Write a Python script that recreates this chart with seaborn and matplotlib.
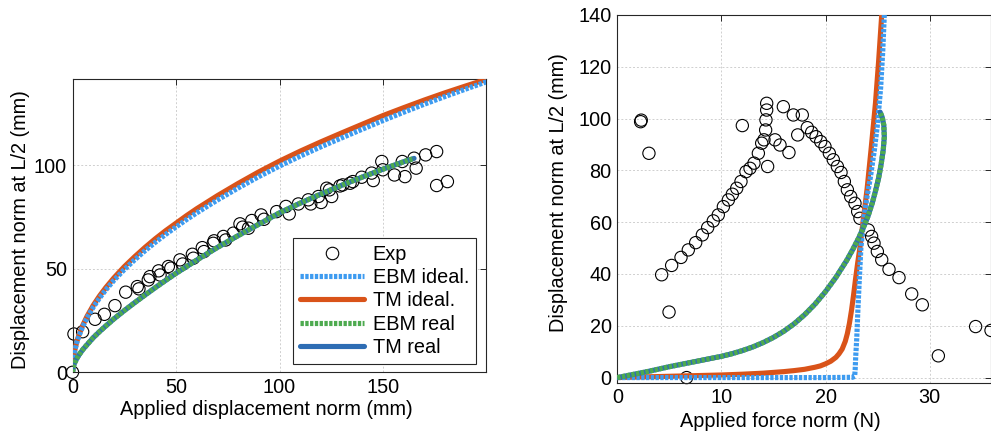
import numpy as np
import pandas as pd
import matplotlib
matplotlib.use("Agg")
import matplotlib.pyplot as plt
from matplotlib.lines import Line2D
import seaborn as sns

sns.set_theme(style="white")
plt.rcParams['font.family'] = ['Liberation Sans', 'DejaVu Sans']
plt.rcParams['text.color'] = 'black'

# ---------------- data: left panel (displacement control) ----------------
disp_ideal = [0, 0.25, 0.5, 1, 2, 3, 4, 5, 7, 10, 13, 16, 20, 25, 30, 35, 40, 45, 50, 55, 60,
              70, 80, 90, 100, 110, 120, 130, 140, 150, 160, 170, 180, 190, 200]
tm_ideal_disp = [0, 5, 7.2, 10.2, 14.5, 17.7, 20.4, 22.8, 27, 32.3, 36.8, 40.8, 45.6, 51, 55.8,
                 60.3, 64.5, 68.4, 72, 75.6, 79, 85.3, 91.2, 96.8, 102, 106.8, 111.3, 115.6,
                 119.8, 124, 127.8, 131.5, 135, 138.3, 141.5]
ebm_ideal_disp = [0, 4.8, 7, 9.9, 14.1, 17.2, 19.8, 22.2, 26.3, 31.4, 35.8, 39.7, 44.4, 49.6, 54.3,
                  58.7, 62.8, 66.6, 70.2, 73.7, 77, 83.2, 89, 94.5, 99.6, 104.4, 108.9, 113.2,
                  117.4, 121.6, 125.6, 129.5, 133.2, 136.8, 140.3]

disp_real = [0, 0.5, 1, 2, 3, 5, 7, 10, 13, 16, 20, 25, 30, 35, 40, 45, 50, 55, 60, 70, 80, 90,
             100, 110, 120, 130, 140, 150, 160, 165]
ebm_real_disp = [0, 3, 4.5, 6.5, 8.2, 11, 13.3, 16.7, 19.6, 22.3, 25.8, 29.8, 33.6, 37.3, 40.9,
                 44.4, 47.8, 51, 54.2, 60.3, 66, 71.5, 77, 81.7, 86.1, 90.3, 94.3, 98.1, 101.7, 103.3]
tm_real_disp = [0, 3, 4.5, 6.5, 8.2, 11, 13.3, 16.7, 19.6, 22.3, 25.8, 29.8, 33.6, 37.3, 40.9,
                44.4, 47.8, 51, 54.2, 60.3, 66, 71.5, 77, 81.7, 86.1, 90.3, 94.3, 98.1, 101.7, 103.3]

exp_disp_x = [0, 0.7, 4.9, 10.9, 15.4, 20.5, 25.7, 31.3, 32.1, 36.6, 37.4, 41.6, 42.3, 46.3, 47.5,
              51.9, 53.2, 57.9, 58.4, 62.7, 63.5, 68, 68.4, 72.9, 74, 77.7, 80.9, 82.2, 85, 86.6,
              91.1, 92.5, 98.6, 103.1, 104.7, 109.1, 113.9, 115.1, 118.8, 120.1, 122.8, 124.1,
              125.2, 129.2, 130.5, 134.1, 135.4, 139.7, 144.5, 145.3, 149.4, 149.9, 155.5, 159.3,
              160.6, 165, 166, 170.6, 175.9, 175.9, 181.1]
exp_disp_y = [0, 18.5, 19.6, 25.6, 28, 32.2, 38.7, 41.4, 40.3, 44.6, 46.2, 49, 47, 51.1, 50.3,
              54.3, 52.3, 57, 55.1, 60.2, 58.3, 62.3, 63.5, 65.6, 63.9, 67.2, 71.7, 70.1, 69.6, 73.3,
              76, 73.9, 77.6, 80.1, 76.5, 81.3, 83.3, 81.3, 84.9, 82, 88.9, 88.1,
              84.9, 90, 90.5, 91.3, 92.1, 94.2, 96.2, 92.6, 101.8, 97.8, 95.3, 101.8,
              94.5, 103.4, 98.6, 105, 106.6, 90.2, 92.1]

# ---------------- data: right panel (force control) ----------------
force_tm_ideal = [0, 2, 5, 8, 10, 12, 14, 16, 17, 18, 19, 19.5, 20, 20.5, 21, 21.3, 21.6, 21.9,
                  22.1, 22.3, 22.5, 22.7, 22.9, 23.1, 23.3, 23.6, 24.0, 24.4, 24.8, 25.1, 25.4]
defl_tm_ideal = [0, 0.2, 0.5, 0.8, 1, 1.3, 1.7, 2.3, 2.7, 3.2, 4, 4.5, 5.3, 6.3, 7.8, 9.2, 11, 14,
                 17, 21, 26, 32, 38.5, 44.5, 50, 60, 73, 89, 106, 122, 140]

force_ebm_ideal = [0, 10, 20, 22.6, 22.8, 22.85, 22.9, 23.0, 23.1, 23.25, 23.4, 23.7, 24.0, 24.3,
                   24.7, 25.0, 25.3, 25.5, 25.65]
defl_ebm_ideal = [0, 0, 0, 0.1, 0.5, 3, 8, 15, 25, 38, 50, 62, 70, 77, 88, 98, 112, 126, 140]

force_real = [0, 1, 2, 3, 4, 5, 6, 7, 8, 9, 10, 11, 12, 13, 14, 15, 16, 17, 18, 19, 20, 21, 22,
              22.6, 23.2, 23.7, 24.1, 24.5, 24.8, 25.1, 25.35, 25.55, 25.65, 25.6, 25.45, 25.25]
defl_ebm_real = [0, 0.8, 1.6, 2.4, 3.3, 4.2, 5, 5.8, 6.6, 7.4, 8.2, 9.2, 10.4, 11.8, 13.5, 15.5,
                 17.9, 20.8, 24.3, 28.4, 33.2, 38.7, 45, 49.3, 54, 58.5, 62.5, 67.5, 72, 77, 82.5,
                 88, 93, 97.5, 100.5, 102.5]
defl_tm_real = [0, 0.8, 1.6, 2.4, 3.3, 4.2, 5, 5.8, 6.6, 7.4, 8.2, 9.2, 10.4, 11.8, 13.5, 15.5,
                17.9, 20.8, 24.3, 28.4, 33.2, 38.7, 45, 49.3, 54, 58.5, 62.5, 67.5, 72, 77, 82.5,
                88, 93, 97.5, 100.5, 102.5]

exp_force_x = [2.24, 2.3, 3.04, 4.26, 4.97, 5.22, 6.12, 6.66, 6.82, 7.53, 8.17, 8.68, 9.22, 9.7, 10.19,
               10.67, 11.05, 11.47, 11.88, 12.01, 12.36, 12.75, 13.13, 13.55, 13.87, 14.09, 14.25,
               14.28, 14.35, 14.35, 14.44, 15.15, 15.63, 15.95, 16.49, 16.91, 17.33, 17.77, 18.25,
               18.67, 19.09, 19.54, 19.95, 20.37, 20.75, 21.14, 21.49, 21.81, 22.1, 22.42, 22.83,
               23.09, 23.31, 24.11, 24.43, 24.66, 24.98, 25.4, 26.1, 27.06, 28.28, 29.3, 30.84,
               34.42, 35.9]
exp_force_y = [98.8, 99.4, 86.6, 39.7, 25.3, 43.3, 46.4, 0, 49.3, 52.1, 55.1, 57.9, 60.5, 62.8, 66,
               68.6, 70.8, 73.1, 75.7, 97.3, 79.5, 80.8, 82.8, 86.6, 90.5, 91.8, 95.6,
               99.5, 103.3, 105.9, 81.5, 91.8, 89.8, 104.6, 86.9, 101.4, 93.7, 101.4, 96.5,
               94.7, 93, 91.1, 89.2, 86.6, 84.1, 81.5, 79.2, 75.7, 72.5, 69.9, 67.3,
               64.1, 61.5, 57, 54.5, 51.9, 48.7, 45.5, 41.8, 38.6, 32.3, 28.1, 8.4,
               19.7, 18.2]

# ---------------- styles ----------------
C_TM_IDEAL = '#D95319'
C_EBM_IDEAL = '#3D9BF0'
C_EBM_REAL = '#4DAA4F'
C_TM_REAL = '#2E6DB4'
LW = 3.7
DOT = (0, (0.65, 0.28))
FS = 14.3

fig = plt.figure(figsize=(9.91, 4.38), dpi=100)
ax1 = fig.add_axes([72.5 / 991, (438 - 372.3) / 438, 413.2 / 991, 293 / 438])
ax2 = fig.add_axes([617.3 / 991, (438 - 382.5) / 438, (990.5 - 617.3) / 991, 367.5 / 438])


def draw(ax, exp_x, exp_y, ti_x, ti_y, ei_x, ei_y, r_x, er_y, tr_y):
    sns.scatterplot(x=exp_x, y=exp_y, ax=ax, marker='o', s=78, facecolors='none',
                    edgecolor='black', linewidth=0.8, zorder=2, clip_on=False, legend=False)
    sns.lineplot(x=ti_x, y=ti_y, ax=ax, sort=False, estimator=None, color=C_TM_IDEAL,
                 lw=LW, zorder=3, legend=False)
    sns.lineplot(x=ei_x, y=ei_y, ax=ax, sort=False, estimator=None, color=C_EBM_IDEAL,
                 lw=LW, linestyle=DOT, zorder=4, legend=False)
    sns.lineplot(x=r_x, y=tr_y, ax=ax, sort=False, estimator=None, color=C_TM_REAL,
                 lw=LW, zorder=5, legend=False)
    sns.lineplot(x=r_x, y=er_y, ax=ax, sort=False, estimator=None, color=C_EBM_REAL,
                 lw=LW, linestyle=DOT, zorder=6, legend=False)


draw(ax1, exp_disp_x, exp_disp_y, disp_ideal, tm_ideal_disp, disp_ideal, ebm_ideal_disp,
     disp_real, ebm_real_disp, tm_real_disp)
draw(ax2, exp_force_x, exp_force_y, force_tm_ideal, defl_tm_ideal, force_ebm_ideal, defl_ebm_ideal,
     force_real, defl_ebm_real, defl_tm_real)

ax1.set_xlim(0, 199.6)
ax1.set_ylim(0, 141.5)
ax1.set_xticks([0, 50, 100, 150])
ax1.set_yticks([0, 50, 100])
ax2.set_xlim(0, 35.85)
ax2.set_ylim(-1.9, 140)
ax2.set_xticks([0, 10, 20, 30])
ax2.set_yticks(list(range(0, 141, 20)))

for ax in (ax1, ax2):
    ax.grid(True, color='#cfcfcf', linestyle=(0, (2, 2)), linewidth=0.7)
    ax.set_axisbelow(True)
    ax.tick_params(direction='in', top=True, right=True, length=4, width=0.7,
                   colors='#262626', labelsize=FS, labelcolor='black', pad=4)
    for sp in ax.spines.values():
        sp.set_color('#262626')
        sp.set_linewidth(0.8)

ax1.set_xlabel('Applied displacement norm (mm)', fontsize=FS, color='black')
ax1.set_ylabel('Displacement norm at L/2 (mm)', fontsize=FS, color='black')
ax2.set_xlabel('Applied force norm (N)', fontsize=FS, color='black')
ax2.set_ylabel('Displacement norm at L/2 (mm)', fontsize=FS, color='black')
ax1.xaxis.set_label_coords(0.468, -0.095)
ax1.yaxis.set_label_coords(-0.103, 0.486)
ax2.xaxis.set_label_coords(0.438, -0.080)
ax2.yaxis.set_label_coords(-0.132, 0.516)

handles = [
    Line2D([], [], linestyle='none', marker='o', markersize=9, markerfacecolor='none',
           markeredgecolor='black', markeredgewidth=0.8),
    Line2D([], [], color=C_EBM_IDEAL, lw=LW, linestyle=DOT),
    Line2D([], [], color=C_TM_IDEAL, lw=LW),
    Line2D([], [], color=C_EBM_REAL, lw=LW, linestyle=DOT),
    Line2D([], [], color=C_TM_REAL, lw=LW),
]
labels = ['Exp', 'EBM ideal.', 'TM ideal.', 'EBM real', 'TM real']
leg = ax1.legend(handles, labels, loc='lower right', bbox_to_anchor=(0.977, 0.028),
                 fontsize=FS, frameon=True, fancybox=False, framealpha=1,
                 edgecolor='#262626', handlelength=3.2, handletextpad=0.45,
                 labelspacing=0.22, borderpad=0.35, borderaxespad=0, labelcolor='black')
leg.get_frame().set_linewidth(0.8)
leg.set_zorder(10)

fig.savefig('out.png', dpi=100)
